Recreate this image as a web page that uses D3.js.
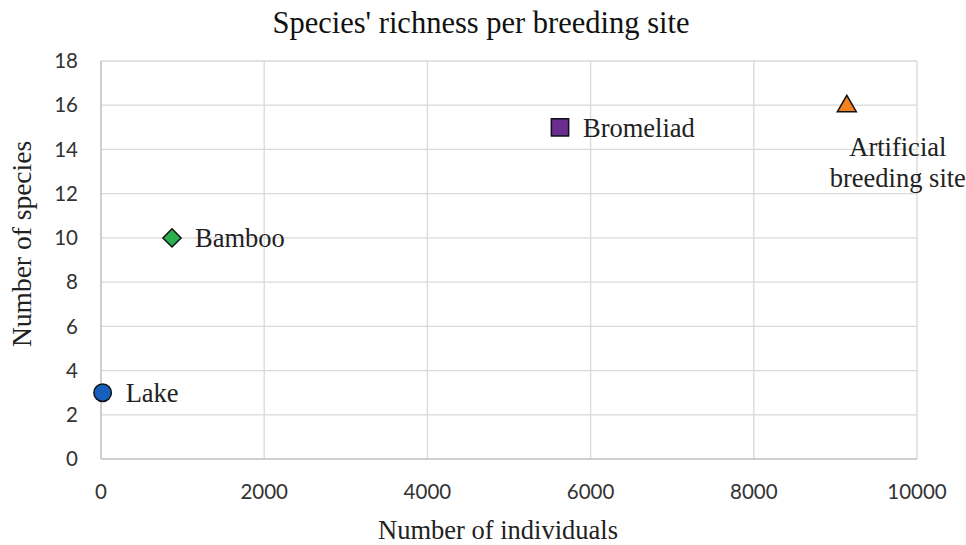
<!DOCTYPE html>
<html>
<head>
<meta charset="utf-8">
<script src="https://cdn.jsdelivr.net/npm/d3@7"></script>
<style>
  body { margin: 0; background: #fff; }
  svg { display: block; }
</style>
</head>
<body>
<div id="chart"></div>
<script>
// data
const sites = ["Lake", "Bamboo", "Bromeliad", "Artificial breeding site"];
const individuals = [20, 870, 5625, 9140];
const species = [3, 10, 15, 16];
const shapes = ["circle", "diamond", "square", "triangle"];
const fills = ["#1560bd", "#2bb04d", "#6a2c8e", "#f5801f"];
const xTicks = [0, 2000, 4000, 6000, 8000, 10000];
const yTicks = [0, 2, 4, 6, 8, 10, 12, 14, 16, 18];

const width = 966, height = 545;
const margin = { top: 61, right: 49, bottom: 86, left: 101 };

const svg = d3.select("#chart").append("svg")
    .attr("width", width)
    .attr("height", height);

const x = d3.scaleLinear().domain([0, 10000]).range([margin.left, width - margin.right]);
const y = d3.scaleLinear().domain([0, 18]).range([height - margin.bottom, margin.top]);

// gridlines
svg.append("g")
    .selectAll("line.vg")
    .data(xTicks.slice(1))
    .join("line")
    .attr("x1", d => x(d)).attr("x2", d => x(d))
    .attr("y1", y(0)).attr("y2", y(18))
    .attr("stroke", "#d9d9d9").attr("stroke-width", 1.3);

svg.append("g")
    .selectAll("line.hg")
    .data(yTicks.slice(1))
    .join("line")
    .attr("x1", x(0)).attr("x2", x(10000))
    .attr("y1", d => y(d)).attr("y2", d => y(d))
    .attr("stroke", "#d9d9d9").attr("stroke-width", 1.3);

// axis lines
svg.append("line")
    .attr("x1", x(0)).attr("x2", x(10000))
    .attr("y1", y(0)).attr("y2", y(0))
    .attr("stroke", "#bfbfbf").attr("stroke-width", 1.5);
svg.append("line")
    .attr("x1", x(0)).attr("x2", x(0))
    .attr("y1", y(0)).attr("y2", y(18))
    .attr("stroke", "#bfbfbf").attr("stroke-width", 1.5);

// tick labels
const tickFont = "Lato, 'Open Sans', sans-serif";
svg.append("g")
    .selectAll("text")
    .data(xTicks)
    .join("text")
    .attr("x", d => x(d))
    .attr("y", y(0) + 40)
    .attr("text-anchor", "middle")
    .style("font-family", tickFont)
    .style("font-size", "20.5px")
    .style("fill", "#333")
    .text(d => d);

svg.append("g")
    .selectAll("text")
    .data(yTicks)
    .join("text")
    .attr("x", x(0) - 23)
    .attr("y", d => y(d))
    .attr("dy", "0.35em")
    .attr("text-anchor", "end")
    .style("font-family", tickFont)
    .style("font-size", "20.5px")
    .style("fill", "#333")
    .text(d => d);

// titles
const serif = "'Liberation Serif', 'Times New Roman', serif";
svg.append("text")
    .attr("x", 481).attr("y", 33)
    .attr("text-anchor", "middle")
    .style("font-family", serif).style("font-size", "30.5px").style("fill", "#111")
    .text("Species' richness per breeding site");

svg.append("text")
    .attr("x", 498).attr("y", 539)
    .attr("text-anchor", "middle")
    .style("font-family", serif).style("font-size", "26.5px").style("fill", "#222")
    .text("Number of individuals");

svg.append("text")
    .attr("transform", `translate(31, 244) rotate(-90)`)
    .attr("text-anchor", "middle")
    .style("font-family", serif).style("font-size", "27.5px").style("fill", "#222")
    .text("Number of species");

// markers
const symbolType = { circle: d3.symbolCircle, diamond: d3.symbolSquare, square: d3.symbolSquare, triangle: d3.symbolTriangle };
const symbolSize = { circle: 240, diamond: 165, square: 300, triangle: 155 };

svg.append("g")
    .selectAll("path")
    .data(sites)
    .join("path")
    .attr("transform", (d, i) => {
        const t = `translate(${x(individuals[i])},${y(species[i]) + (shapes[i] === "triangle" ? 1 : 0)})`;
        return shapes[i] === "diamond" ? t + " rotate(45)" : t;
    })
    .attr("d", (d, i) => d3.symbol().type(symbolType[shapes[i]]).size(symbolSize[shapes[i]])())
    .attr("fill", (d, i) => fills[i])
    .attr("stroke", "#111")
    .attr("stroke-width", 1.5);

// data labels: three right of the marker, the last one below it
const labels = svg.append("g")
    .style("font-family", serif).style("font-size", "26.5px").style("fill", "#222");

sites.forEach((name, i) => {
    const px = x(individuals[i]), py = y(species[i]);
    if (i < 3) {
        labels.append("text")
            .attr("x", px + 23).attr("y", py).attr("dy", "0.35em")
            .text(name);
    } else {
        const t = labels.append("text").attr("text-anchor", "middle");
        t.append("tspan").attr("x", px + 51).attr("y", py + 51).text("Artificial");
        t.append("tspan").attr("x", px + 51).attr("y", py + 82).text("breeding site");
    }
});
</script>
</body>
</html>
